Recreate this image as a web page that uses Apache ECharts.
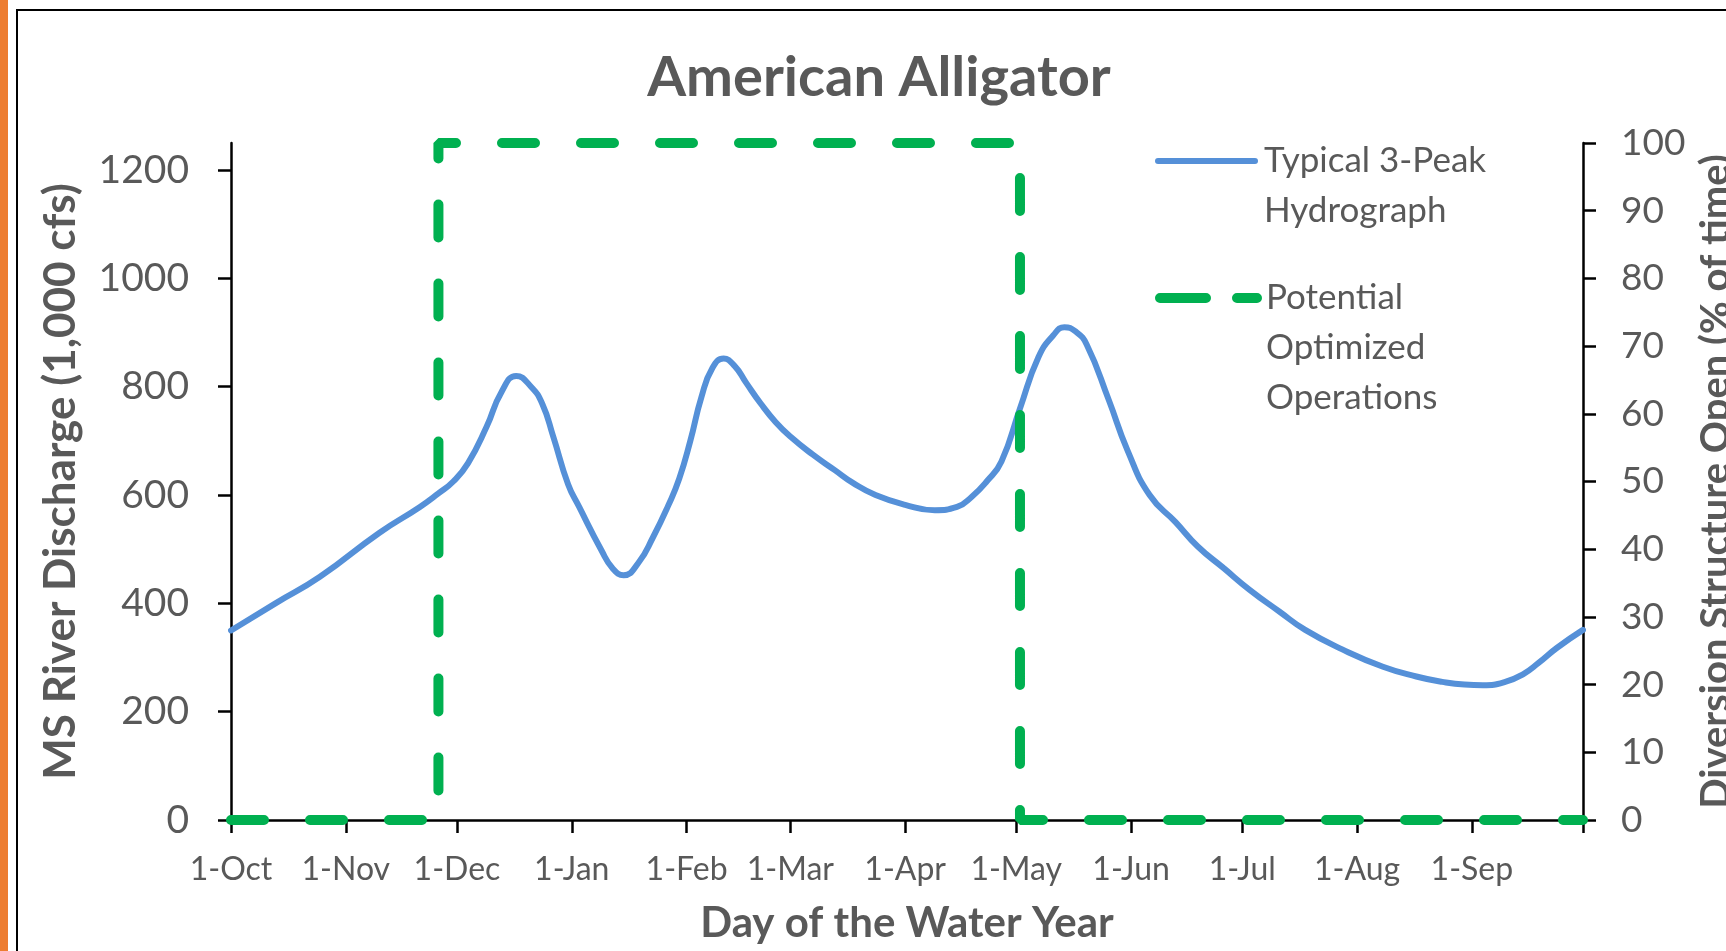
<!DOCTYPE html>
<html>
<head>
<meta charset="utf-8">
<script src="https://cdn.jsdelivr.net/npm/echarts@6/dist/echarts.min.js"></script>
<style>
html,body{margin:0;padding:0;background:#fff;}
#chart{width:1726px;height:951px;}
</style>
</head>
<body>
<div id="chart"></div>
<script>
// ---- data ----
const monthDays   = [0, 31, 61, 92, 123, 151, 182, 212, 243, 273, 304, 335, 365];
const monthLabels = ['1-Oct','1-Nov','1-Dec','1-Jan','1-Feb','1-Mar','1-Apr','1-May','1-Jun','1-Jul','1-Aug','1-Sep'];
const leftTicks   = [0, 200, 400, 600, 800, 1000, 1200];

const hydroDays   = [0, 12, 24, 40, 51, 56, 60, 64, 69, 73, 77, 81, 84, 87, 91, 94, 100, 103, 106, 110, 114, 118, 121, 124, 127, 130, 133, 136, 139, 143, 147, 151, 157, 163, 168, 174, 182, 190, 196, 200, 204, 208, 213, 218, 222, 225, 228, 231, 237, 242, 248, 255, 261, 268, 275, 283, 290, 300, 311, 320, 327, 333, 338, 344, 349, 353, 358, 365];
const hydroValues = [350, 400, 449, 530, 578, 603, 625, 659, 726, 790, 820, 800, 769, 708, 620, 578, 498, 465, 452, 475, 523, 580, 630, 700, 781, 835, 852, 838, 808, 769, 735, 708, 675, 646, 622, 600, 582, 572, 578, 597, 625, 662, 760, 855, 895, 910, 902, 878, 775, 683, 600, 550, 505, 465, 425, 385, 351, 315, 283, 265, 255, 250, 249, 255, 270, 290, 318, 351];

const opsDays   = [0, 56, 56, 213, 213, 365];
const opsValues = [0, 0, 100, 100, 0, 0];

const seriesNames = ['Typical 3-Peak Hydrograph', 'Potential Optimized Operations'];
const legendLines = [['Typical 3-Peak', 'Hydrograph'], ['Potential', 'Optimized', 'Operations']];

// ---- chart ----
const FONT = 'Lato';
const GREY = '#595959';
const BLUE = '#5590D8';
const GREEN = '#00B050';
const LH = 50;

// pad with empty lines above so the first line sits level with the icon
const legendText = lines => '\n'.repeat(lines.length - 1) + lines.join('\n');
const legendTop = (iconY, lines) => iconY - ((2 * lines.length - 1) * LH) / 2;

const chart = echarts.init(document.getElementById('chart'));
const pair = (xs, ys) => xs.map((x, i) => [x, ys[i]]);

const legendBase = {
  orient: 'vertical', left: 1155, padding: 0,
  itemWidth: 97, itemHeight: 14, itemGap: 0,
  itemStyle: { opacity: 0 },
  lineStyle: { width: 'inherit', cap: 'round' },
  textStyle: { fontFamily: FONT, fontSize: 35, color: GREY, lineHeight: LH, padding: [0, 0, 0, 4] }
};

chart.setOption({
  backgroundColor: '#ffffff',
  animation: false,
  graphic: [
    { type: 'rect', left: 0, top: 0, shape: { width: 8, height: 951 }, style: { fill: '#ED7D31' }, silent: true },
    { type: 'rect', shape: { x: 17, y: 10, width: 1800, height: 1000 }, style: { fill: null, stroke: '#000', lineWidth: 2 }, silent: true }
  ],
  title: {
    text: 'American Alligator',
    left: 874, top: 45, textAlign: 'center',
    textStyle: { fontFamily: FONT, fontSize: 56, fontWeight: 'bold', color: GREY }
  },
  grid: { left: 231, right: 143, top: 143, bottom: 131, containLabel: false, outerBoundsMode: 'none' },
  legend: [
    Object.assign({}, legendBase, {
      top: legendTop(161, legendLines[0]),
      data: [seriesNames[0]],
      formatter: () => legendText(legendLines[0])
    }),
    Object.assign({}, legendBase, {
      top: legendTop(298, legendLines[1]),
      data: [{ name: seriesNames[1], lineStyle: { type: [46, 31], width: 10, cap: 'round' } }],
      formatter: () => legendText(legendLines[1])
    })
  ],
  xAxis: {
    type: 'value', min: 0, max: 365,
    name: 'Day of the Water Year', nameLocation: 'middle', nameGap: 82,
    nameTextStyle: { fontFamily: FONT, fontSize: 42, fontWeight: 'bold', color: GREY },
    axisLine: { show: true, onZero: false, lineStyle: { color: '#000', width: 2.5 } },
    axisTick: { show: true, length: 13, lineStyle: { color: '#000', width: 2.5 }, customValues: monthDays },
    axisLabel: {
      fontFamily: FONT, fontSize: 32, color: GREY, margin: 34,
      customValues: monthDays.slice(0, 12),
      formatter: v => monthLabels[monthDays.indexOf(v)] || ''
    },
    splitLine: { show: false }
  },
  yAxis: [
    {
      type: 'value', min: 0, max: 1250, position: 'left',
      name: 'MS River Discharge (1,000 cfs)', nameLocation: 'middle', nameGap: 148, nameRotate: 90,
      nameTextStyle: { fontFamily: FONT, fontSize: 44, fontWeight: 'bold', color: GREY },
      axisLine: { show: true, lineStyle: { color: '#000', width: 2.5 } },
      axisTick: { show: true, length: 13, lineStyle: { color: '#000', width: 2.5 }, customValues: leftTicks },
      axisLabel: { fontFamily: FONT, fontSize: 39, color: GREY, margin: 42, customValues: leftTicks, formatter: v => String(v) },
      splitLine: { show: false }
    },
    {
      type: 'value', min: 0, max: 100, interval: 10, position: 'right',
      name: 'Diversion Structure Open (% of time)', nameLocation: 'middle', nameGap: 105, nameRotate: 90,
      nameTextStyle: { fontFamily: FONT, fontSize: 40, fontWeight: 'bold', color: GREY },
      axisLine: { show: true, lineStyle: { color: '#000', width: 2.5 } },
      axisTick: { show: true, length: 13, lineStyle: { color: '#000', width: 2.5 } },
      axisLabel: { fontFamily: FONT, fontSize: 37, color: GREY, margin: 38, formatter: v => String(v) },
      splitLine: { show: false }
    }
  ],
  series: [
    {
      name: seriesNames[0], type: 'line', yAxisIndex: 0,
      data: pair(hydroDays, hydroValues),
      smooth: 0.5, symbol: 'none', clip: false,
      lineStyle: { color: BLUE, width: 6, cap: 'round' }, itemStyle: { color: BLUE }, z: 3
    },
    {
      name: seriesNames[1], type: 'line', yAxisIndex: 1,
      data: pair(opsDays, opsValues),
      symbol: 'none', clip: false,
      lineStyle: { color: GREEN, width: 10, type: [33, 46], cap: 'round' }, itemStyle: { color: GREEN }, z: 4
    }
  ]
});
</script>
</body>
</html>
